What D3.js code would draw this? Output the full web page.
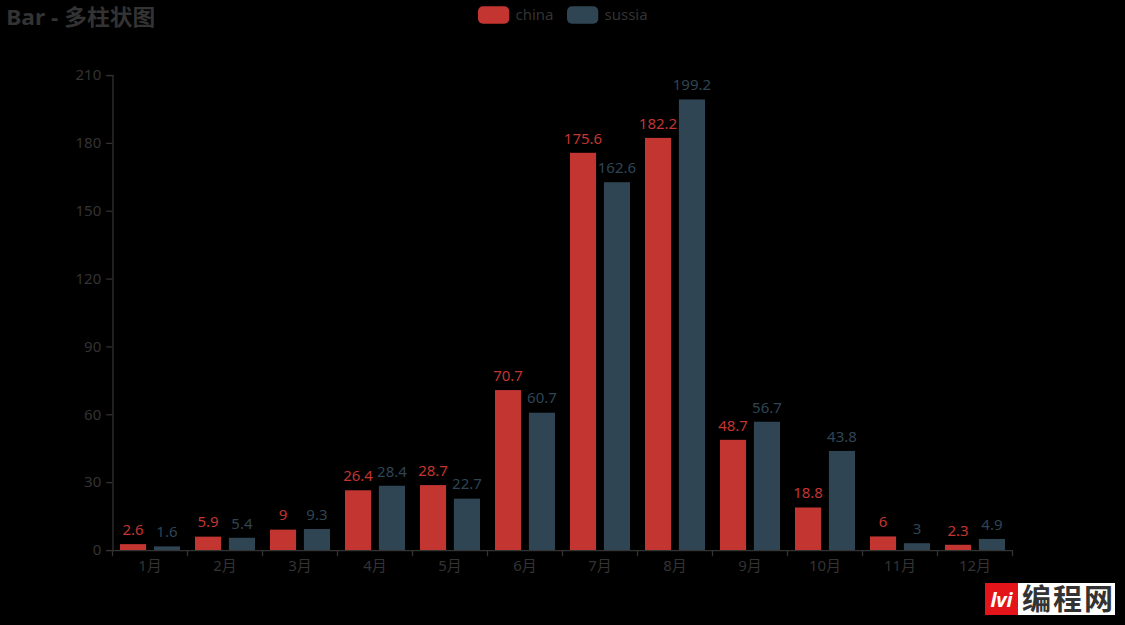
<!DOCTYPE html>
<html><head><meta charset="utf-8">
<script src="https://cdn.jsdelivr.net/npm/d3@7/dist/d3.min.js"></script>
<style>html,body{margin:0;padding:0;background:#000;}svg{display:block;}</style>
</head><body>
<svg id="c" width="1125" height="625"></svg>
<script>
const months = ["1月","2月","3月","4月","5月","6月","7月","8月","9月","10月","11月","12月"];
const china = [2.6, 5.9, 9.0, 26.4, 28.7, 70.7, 175.6, 182.2, 48.7, 18.8, 6.0, 2.3];
const sussia = [1.6, 5.4, 9.3, 28.4, 22.7, 60.7, 162.6, 199.2, 56.7, 43.8, 3.0, 4.9];
const seriesNames = ["china", "sussia"];
const seriesColors = ["#c23531", "#2f4554"];
const yTicks = [0, 30, 60, 90, 120, 150, 180, 210];

(function () {
const W = 1125, H = 625, S = 1.25;
const font = "'Noto Sans','Noto Sans CJK SC',sans-serif";
const cjk = "'Noto Sans CJK SC','Noto Sans',sans-serif";
const svg = d3.select("#c");
svg.append("rect").attr("width", W).attr("height", H).attr("fill", "#000");

const gLeft = 112.5, gRight = 1012.5, gTop = 75, gBottom = 550;
const x = d3.scaleBand().domain(months).range([gLeft, gRight]).paddingInner(0).paddingOuter(0);
const y = d3.scaleLinear().domain([0, 210]).range([gBottom, gTop]);

// bars
const bw = x.bandwidth();
const inner = bw * 0.8;
const barW = inner / 2.3;
const sub = d3.scaleOrdinal().domain(seriesNames).range([0, barW * 1.3]);
const data = [china, sussia];
seriesNames.forEach((name, si) => {
  const g = svg.append("g");
  const vals = data[si];
  g.selectAll("rect").data(vals).join("rect")
    .attr("x", (d, i) => x(months[i]) + bw * 0.1 + sub(name))
    .attr("y", d => y(d))
    .attr("width", barW)
    .attr("height", d => y(0) - y(d))
    .attr("fill", seriesColors[si]);
  g.selectAll("text").data(vals).join("text")
    .attr("x", (d, i) => x(months[i]) + bw * 0.1 + sub(name) + barW / 2)
    .attr("y", d => y(d) - 5 * S - 3)
    .attr("text-anchor", "middle")
    .attr("font-family", font)
    .attr("font-size", 15)
    .attr("fill", seriesColors[si])
    .text(d => String(+d));
});

// y axis
const yAxis = d3.axisLeft(y).tickValues(yTicks).tickSize(5 * S).tickPadding(4 * S);
const ga = svg.append("g").attr("transform", `translate(${gLeft},0)`).call(yAxis);
ga.select(".domain").attr("stroke", "#333").attr("stroke-width", 1.25);
ga.selectAll(".tick line").attr("stroke", "#333").attr("stroke-width", 1.25);
ga.selectAll(".tick text").attr("fill", "#333").attr("font-family", font).attr("font-size", 15);

// x axis
const xAxis = d3.axisBottom(x).tickSize(0).tickPadding(10 * S);
const gx = svg.append("g").attr("transform", `translate(0,${gBottom})`).call(xAxis);
gx.select(".domain").attr("stroke", "#333").attr("stroke-width", 1.25);
gx.selectAll(".tick text").attr("fill", "#333").attr("font-family", font).attr("font-size", 15).attr("dy", "0.55em");
const bounds = months.map(m => x(m)).concat([gRight]);
gx.selectAll(".bt").data(bounds).join("line").attr("class", "bt")
  .attr("x1", d => d).attr("x2", d => d).attr("y1", 0).attr("y2", 5 * S)
  .attr("stroke", "#333").attr("stroke-width", 1.25);

// title
svg.append("text").attr("x", 5 * S).attr("y", 25).attr("font-family", font)
  .attr("font-size", 22).attr("font-weight", "bold").attr("fill", "#333")
  .attr("textLength", 149).attr("lengthAdjust", "spacingAndGlyphs").text("Bar - 多柱状图");

// legend
const legX = [478, 567];
seriesNames.forEach((name, i) => {
  svg.append("rect").attr("x", legX[i]).attr("y", 6.25).attr("width", 31.25).attr("height", 17.5)
    .attr("rx", 5).attr("fill", seriesColors[i]);
  svg.append("text").attr("x", legX[i] + 31.25 + 6.25).attr("y", 20).attr("font-family", font)
    .attr("font-size", 15).attr("fill", "#333").text(name);
});

// watermark
const wm = svg.append("g");
wm.append("rect").attr("x", 985).attr("y", 583).attr("width", 130).attr("height", 32).attr("fill", "#fff");
wm.append("rect").attr("x", 985).attr("y", 583).attr("width", 33).attr("height", 32).attr("fill", "#e4141b");
wm.append("text").attr("x", 1001.5).attr("y", 607).attr("text-anchor", "middle").attr("font-family", font)
  .attr("font-size", 20).attr("font-weight", "bold").attr("font-style", "italic").attr("fill", "#fff").text("lvi");
wm.append("text").attr("x", 1022).attr("y", 610).attr("font-family", cjk).attr("font-size", 29)
  .attr("font-weight", "bold").attr("fill", "#333").attr("textLength", 91).text("编程网");
})();
</script>
</body></html>
